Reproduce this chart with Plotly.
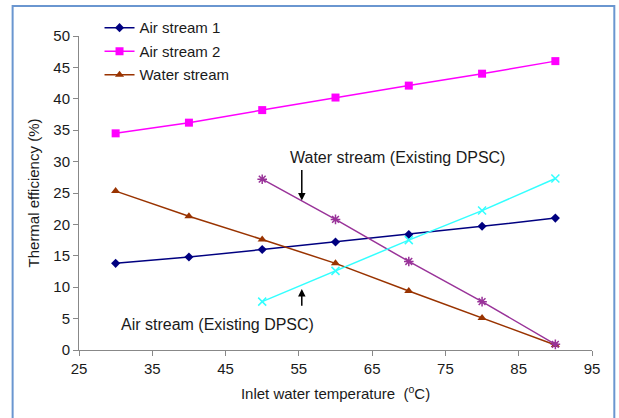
import plotly.graph_objects as go

# Inlet water temperature (°C)
temps = [30, 40, 50, 60, 70, 80, 90]
temps_existing = [50, 60, 70, 80, 90]

# Thermal efficiency (%)
air_stream_1 = [13.8, 14.8, 16.0, 17.2, 18.4, 19.7, 21.0]
air_stream_2 = [34.5, 36.2, 38.2, 40.2, 42.1, 44.0, 46.0]
water_stream = [25.3, 21.3, 17.6, 13.8, 9.4, 5.1, 0.8]
water_existing = [27.2, 20.8, 14.1, 7.7, 0.9]
air_existing = [7.7, 12.6, 17.5, 22.2, 27.3]

x_ticks = [25, 35, 45, 55, 65, 75, 85, 95]
y_ticks = [0, 5, 10, 15, 20, 25, 30, 35, 40, 45, 50]

FONT = "Liberation Sans, Arial, sans-serif"
FS = 15

fig = go.Figure()

fig.add_trace(go.Scatter(
    x=temps, y=air_stream_1, name="Air stream 1", mode="lines+markers",
    line=dict(color="#000080", width=1.5),
    marker=dict(symbol="diamond", size=7, color="#000080"),
    legendgroup="a",
))
fig.add_trace(go.Scatter(
    x=temps, y=air_stream_2, name="Air stream 2", mode="lines+markers",
    line=dict(color="#FF00FF", width=1.5),
    marker=dict(symbol="square", size=8, color="#FF00FF"),
    legendgroup="b",
))
fig.add_trace(go.Scatter(
    x=temps, y=water_stream, name="Water stream", mode="lines+markers",
    line=dict(color="#993300", width=1.5),
    marker=dict(symbol="triangle-up", size=8, color="#993300"),
    legendgroup="c",
))
fig.add_trace(go.Scatter(
    x=temps_existing, y=water_existing, name="Water stream (Existing DPSC)",
    mode="lines+markers", showlegend=False,
    line=dict(color="#993399", width=1.5),
    marker=dict(symbol="asterisk-open", size=8, color="#993399",
                line=dict(color="#993399", width=1.5)),
))
fig.add_trace(go.Scatter(
    x=temps_existing, y=air_existing, name="Air stream (Existing DPSC)",
    mode="lines+markers", showlegend=False,
    line=dict(color="#33FFFF", width=1.5),
    marker=dict(symbol="x-thin-open", size=8, color="#33FFFF",
                line=dict(color="#33FFFF", width=1.5)),
))

# Callout labels with their pointer arrows
fig.add_annotation(x=68.5, y=30.6, xref="x", yref="y", text="Water stream (Existing DPSC)",
                   showarrow=False, font=dict(family=FONT, size=16, color="#1a1a1a"))
fig.add_annotation(x=55.4, y=23.8, ax=55.4, ay=28.9, xref="x", yref="y", axref="x", ayref="y",
                   text="", showarrow=True, arrowhead=2, arrowsize=1, arrowwidth=1.5,
                   arrowcolor="#000000")
fig.add_annotation(x=43.95, y=4.0, xref="x", yref="y", text="Air stream (Existing DPSC)",
                   showarrow=False, font=dict(family=FONT, size=16, color="#1a1a1a"))
fig.add_annotation(x=55.4, y=9.7, ax=55.4, ay=6.8, xref="x", yref="y", axref="x", ayref="y",
                   text="", showarrow=True, arrowhead=2, arrowsize=1, arrowwidth=1.5,
                   arrowcolor="#000000")

# Outer frame
fig.add_shape(type="rect", xref="paper", yref="paper",
              x0=-0.1294, x1=1.0435, y0=-0.4, y1=1.0952,
              line=dict(color="#6A96D0", width=2), layer="above")

fig.update_layout(
    width=619, height=418,
    margin=dict(l=79, r=27, t=35, b=68),
    paper_bgcolor="white", plot_bgcolor="white",
    font=dict(family=FONT, size=FS, color="#1a1a1a"),
    showlegend=True,
    legend=dict(x=0.04, y=1.075, xanchor="left", yanchor="top",
                bgcolor="rgba(0,0,0,0)", font=dict(family=FONT, size=FS),
                tracegroupgap=1, itemwidth=30),
    xaxis=dict(
        range=[25, 95], tickvals=x_ticks, showgrid=False, zeroline=False,
        showline=True, linecolor="#888888", linewidth=1,
        ticks="outside", ticklen=5, tickcolor="#888888",
        title=dict(text="Inlet water temperature  (<sup>o</sup>C)", standoff=12,
                   font=dict(family=FONT, size=FS)),
    ),
    yaxis=dict(
        range=[0, 50], tickvals=y_ticks, showgrid=False, zeroline=False,
        showline=True, linecolor="#888888", linewidth=1,
        ticks="outside", ticklen=5, tickcolor="#888888",
        title=dict(text="Thermal efficiency (%)", standoff=10,
                   font=dict(family=FONT, size=FS)),
    ),
)

fig.write_html("out.html")
